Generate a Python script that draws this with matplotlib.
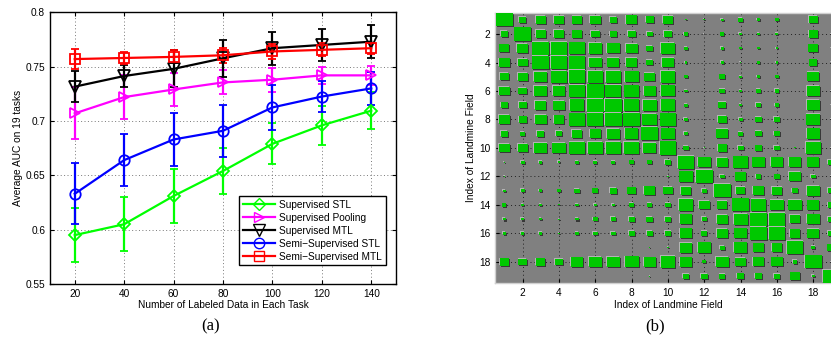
import numpy as np
import matplotlib
matplotlib.use("Agg")
import matplotlib.pyplot as plt
from matplotlib.patches import Rectangle
from matplotlib.lines import Line2D

plt.rcParams['font.family'] = ['Liberation Sans', 'DejaVu Sans']

# ---- panel (a) data ----
n_labeled = [20, 40, 60, 80, 100, 120, 140]
sup_stl = [0.595, 0.605, 0.631, 0.654, 0.679, 0.696, 0.7095]
sup_stl_err = [0.025, 0.025, 0.025, 0.021, 0.019, 0.018, 0.017]
sup_pool = [0.707, 0.722, 0.729, 0.7355, 0.738, 0.742, 0.742]
sup_pool_err = [0.024, 0.020, 0.015, 0.011, 0.011, 0.008, 0.009]
sup_mtl = [0.7316, 0.7414, 0.748, 0.7577, 0.767, 0.770, 0.773]
sup_mtl_err = [0.014, 0.010, 0.017, 0.017, 0.015, 0.015, 0.015]
semi_stl = [0.633, 0.664, 0.683, 0.691, 0.7125, 0.7225, 0.730]
semi_stl_err = [0.028, 0.024, 0.024, 0.024, 0.021, 0.014, 0.015]
semi_mtl = [0.757, 0.758, 0.759, 0.7605, 0.764, 0.7655, 0.767]
semi_mtl_err = [0.0095, 0.0055, 0.006, 0.007, 0.007, 0.006, 0.005]

series_names = ['Supervised STL', 'Supervised Pooling', 'Supervised MTL',
                'Semi\u2212Supervised STL', 'Semi\u2212Supervised MTL']

# ---- panel (b) data: task similarity (19 landmine fields) ----
sim = [
    [1.0, 0.46, 0.6, 0.64, 0.58, 0.64, 0.42, 0.68, 0.5, 0.64, 0.08, 0.1, 0.18, 0.28, 0.2, 0.2, 0.0, 0.56, 0.05],
    [0.44, 1.0, 0.62, 0.62, 0.58, 0.52, 0.42, 0.48, 0.36, 0.52, 0.24, 0.03, 0.24, 0.18, 0.16, 0.18, 0.0, 0.56, 0.05],
    [0.6, 0.66, 1.0, 1.0, 0.92, 0.8, 0.76, 0.72, 0.4, 0.84, 0.2, 0.0, 0.2, 0.16, 0.16, 0.16, 0.0, 0.6, 0.05],
    [0.64, 0.6, 1.0, 1.0, 0.92, 0.76, 0.72, 0.68, 0.4, 0.76, 0.16, 0.0, 0.2, 0.08, 0.16, 0.16, 0.0, 0.48, 0.05],
    [0.56, 0.6, 0.8, 0.92, 1.0, 0.88, 0.92, 0.84, 0.64, 0.88, 0.2, 0.0, 0.36, 0.16, 0.2, 0.2, 0.0, 0.72, 0.05],
    [0.68, 0.52, 0.8, 0.76, 0.92, 1.0, 0.96, 0.88, 0.72, 0.84, 0.2, 0.0, 0.36, 0.16, 0.28, 0.28, 0.0, 0.8, 0.05],
    [0.44, 0.48, 0.68, 0.68, 0.88, 1.0, 1.0, 0.92, 0.84, 0.88, 0.2, 0.0, 0.48, 0.16, 0.32, 0.28, 0.0, 0.8, 0.05],
    [0.68, 0.48, 0.72, 0.64, 0.92, 0.96, 1.0, 1.0, 0.88, 0.92, 0.24, 0.0, 0.52, 0.24, 0.4, 0.36, 0.0, 0.84, 0.05],
    [0.44, 0.28, 0.44, 0.4, 0.6, 0.68, 0.76, 0.8, 1.0, 0.8, 0.24, 0.0, 0.72, 0.28, 0.4, 0.36, 0.04, 0.8, 0.05],
    [0.64, 0.6, 0.8, 0.8, 0.92, 0.92, 0.92, 0.92, 0.8, 1.0, 0.32, 0.08, 0.56, 0.36, 0.4, 0.36, 0.08, 0.92, 0.1],
    [0.08, 0.24, 0.2, 0.16, 0.2, 0.24, 0.24, 0.28, 0.28, 0.36, 1.0, 0.76, 0.68, 0.88, 0.76, 0.76, 0.76, 0.72, 0.4],
    [0.1, 0.0, 0.0, 0.0, 0.0, 0.0, 0.0, 0.0, 0.0, 0.08, 0.8, 1.0, 0.28, 0.64, 0.32, 0.32, 0.72, 0.28, 0.1],
    [0.16, 0.24, 0.2, 0.2, 0.32, 0.36, 0.44, 0.52, 0.68, 0.56, 0.64, 0.28, 1.0, 0.56, 0.68, 0.64, 0.36, 0.76, 0.4],
    [0.24, 0.16, 0.16, 0.08, 0.2, 0.2, 0.2, 0.28, 0.28, 0.32, 0.88, 0.64, 0.6, 1.0, 0.88, 0.8, 0.8, 0.72, 0.4],
    [0.2, 0.2, 0.16, 0.08, 0.2, 0.28, 0.32, 0.36, 0.4, 0.4, 0.76, 0.32, 0.68, 0.84, 1.0, 1.0, 0.64, 0.76, 0.4],
    [0.2, 0.2, 0.2, 0.08, 0.2, 0.28, 0.28, 0.36, 0.36, 0.4, 0.76, 0.36, 0.68, 0.76, 1.0, 1.0, 0.64, 0.72, 0.4],
    [0.0, 0.0, 0.0, 0.0, 0.0, 0.0, 0.0, 0.0, 0.04, 0.08, 0.76, 0.8, 0.32, 0.8, 0.64, 0.64, 1.0, 0.24, 0.5],
    [0.56, 0.52, 0.56, 0.52, 0.72, 0.76, 0.76, 0.84, 0.72, 0.88, 0.72, 0.24, 0.76, 0.64, 0.68, 0.68, 0.28, 1.0, 0.1],
    [0.0, 0.0, 0.0, 0.0, 0.0, 0.0, 0.0, 0.0, 0.06, 0.0, 0.4, 0.4, 0.36, 0.44, 0.44, 0.4, 0.56, 0.16, 1.0],
]

fig = plt.figure(figsize=(8.31, 3.4), dpi=100)

# ================= (a) =================
ax = fig.add_axes([0.0602, 0.1647, 0.4163, 0.799])
styles = [
    (sup_stl, sup_stl_err, '#00ff00', 'D', 6.5),
    (sup_pool, sup_pool_err, '#ff00ff', '>', 7.5),
    (sup_mtl, sup_mtl_err, 'black', 'v', 8),
    (semi_stl, semi_stl_err, '#0000ff', 'o', 7.5),
    (semi_mtl, semi_mtl_err, '#ff0000', 's', 6.5),
]
handles = []
for (vals, errs, col, mk, ms), name in zip(styles, series_names):
    ax.errorbar(n_labeled, vals, yerr=errs, color=col, marker=mk, ms=ms,
                mfc='none', mec=col, mew=1.3, lw=1.6, elinewidth=1.6,
                capsize=3.2, capthick=1.6)
    handles.append(Line2D([], [], color=col, marker=mk, ms=ms, mfc='none',
                          mec=col, mew=1.0, lw=1.6, label=name))

ax.set_xlim(10, 150)
ax.set_ylim(0.55, 0.8)
ax.set_xticks(n_labeled)
ax.set_yticks([0.55, 0.6, 0.65, 0.7, 0.75, 0.8])
ax.set_yticklabels(['0.55', '0.6', '0.65', '0.7', '0.75', '0.8'])
ax.tick_params(direction='in', top=True, right=True, labelsize=7.3, length=3, width=0.8)
ax.grid(True, linestyle=(0, (1, 2.5)), color='#777777', lw=0.7)
for sp in ax.spines.values():
    sp.set_linewidth(1.0)
ax.set_xlabel('Number of Labeled Data in Each Task', fontsize=7.3, labelpad=1)
ax.set_ylabel('Average AUC on 19 tasks', fontsize=7.3, labelpad=2)
leg = ax.legend(handles=handles, loc='lower right', bbox_to_anchor=(0.985, 0.05),
                fontsize=7.3, fancybox=False, framealpha=1, edgecolor='black',
                handlelength=3.2, borderpad=0.35, labelspacing=0.3,
                handletextpad=0.4)
leg.get_frame().set_linewidth(1.0)

# ================= (b) =================
hx = fig.add_axes([0.5961, 0.1668, 0.4154, 0.796])
hx.set_facecolor('#808080')
n = len(sim)
hx.set_xlim(0.5, n + 0.5)
hx.set_ylim(n + 0.5, 0.5)
hx.set_xticks(range(2, n, 2))
hx.set_yticks(range(2, n, 2))
hx.grid(True, linestyle=(0, (1, 3)), color='#202020', lw=0.7)
hx.set_axisbelow(True)
hx.tick_params(direction='in', labelsize=7.3, length=3, width=0.8)
for sp in hx.spines.values():
    sp.set_color('#d0d0d0')
    sp.set_linewidth(1.0)

px = 1.0 / 18.16
py = 1.0 / 14.23
for i in range(n):
    for j in range(n):
        w = sim[i][j]
        if w <= 0:
            continue
        sx = 0.92 * w
        sy = 0.92 * w
        x0 = j + 1 - sx / 2
        y0 = i + 1 - sy / 2
        hx.add_patch(Rectangle((x0 + px, y0 + py), sx, sy, facecolor='#383838',
                               edgecolor='none', zorder=2))
        hx.add_patch(Rectangle((x0 - 0.7 * px, y0 - 0.7 * py), sx, sy,
                               facecolor='#b4b4b4', edgecolor='none', zorder=2))
        hx.add_patch(Rectangle((x0, y0), sx, sy, facecolor='#00c800',
                               edgecolor='none', zorder=3))

hx.set_xlabel('Index of Landmine Field', fontsize=7.3, labelpad=1)
hx.set_ylabel('Index of Landmine Field', fontsize=7.3, labelpad=2)

fig.text(0.253, 0.027, '(a)', fontsize=12, family='Liberation Serif', ha='center')
fig.text(0.788, 0.027, '(b)', fontsize=12, family='Liberation Serif', ha='center')

fig.savefig('out.png', dpi=100)
